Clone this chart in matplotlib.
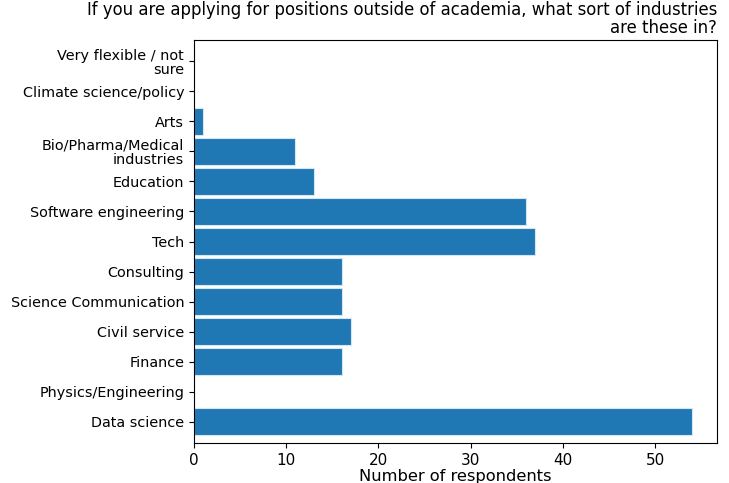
import numpy as np
import matplotlib
matplotlib.use('Agg')
import matplotlib.pyplot as plt

industries = ['Data science', 'Physics/Engineering', 'Finance', 'Civil service',
              'Science Communication', 'Consulting', 'Tech', 'Software engineering',
              'Education', 'Bio/Pharma/Medical\nindustries', 'Arts',
              'Climate science/policy', 'Very flexible / not\nsure']
counts = [54, 0, 16, 17, 16, 16, 37, 36, 13, 11, 1, 0, 0]

fig = plt.figure(figsize=(7.29, 4.83), dpi=100)
ax = fig.add_axes([0.266, 0.083, 0.7175, 0.834])
ind = np.arange(len(industries))
ax.barh(ind, counts, height=0.9, color='#1f77b4', edgecolor='#d6e6f2', linewidth=0.8)
ax.set_ylim(-0.7, 12.7)
ax.set_yticks(ind)
ax.set_yticklabels(industries, fontsize=10.4, linespacing=1.05)
ax.tick_params(axis='x', labelsize=11)
ax.set_xlabel('Number of respondents', fontsize=11.7, labelpad=1)
ax.set_title('If you are applying for positions outside of academia, what sort of industries\nare these in?',
             loc='right', fontsize=11.9, linespacing=1.0, pad=5)

plt.savefig('out.png', dpi=100)
